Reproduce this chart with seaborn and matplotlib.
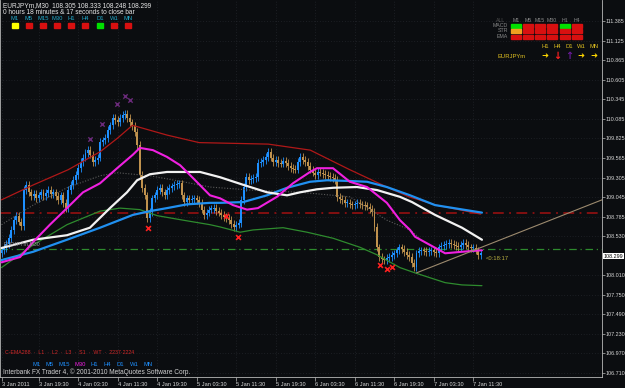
import matplotlib
matplotlib.use('Agg')
import matplotlib.pyplot as plt
import matplotlib.patches as mpatches
import numpy as np
import pandas as pd
import seaborn as sns

# ---------------- data ----------------
first_open = 108.30
closes = [
    108.34, 108.37, 108.42, 108.50, 108.61, 108.74, 108.80, 108.72, 108.66, 109.14,
    109.21, 109.11, 109.06, 109.09, 109.03, 109.07, 109.11, 109.06, 109.10, 109.14,
    109.09, 109.11, 109.06, 109.01, 109.07, 108.97, 108.90, 109.14, 109.21, 109.27,
    109.34, 109.43, 109.51, 109.57, 109.63, 109.67, 109.61, 109.51, 109.54, 109.57,
    109.78, 109.80, 109.83, 109.94, 110.00, 110.10, 110.07, 110.04, 110.10, 110.14,
    110.15, 110.10, 110.04, 109.99, 109.91, 109.74, 109.34, 109.17, 109.07, 108.77,
    108.85, 109.03, 109.07, 109.14, 109.17, 109.11, 109.07, 109.14, 109.17, 109.19,
    109.21, 109.22, 109.23, 109.07, 108.98, 109.03, 109.01, 109.02, 109.03, 109.01,
    108.97, 108.88, 108.81, 108.84, 108.88, 108.89, 108.90, 108.86, 108.84, 108.81,
    108.78, 108.77, 108.74, 108.69, 108.65, 108.68, 108.70, 109.01, 109.18, 109.31,
    109.27, 109.29, 109.30, 109.31, 109.50, 109.51, 109.54, 109.58, 109.65, 109.57,
    109.51, 109.54, 109.50, 109.49, 109.53, 109.50, 109.46, 109.43, 109.42, 109.41,
    109.51, 109.58, 109.54, 109.51, 109.46, 109.41, 109.37, 109.34, 109.38, 109.37,
    109.35, 109.34, 109.33, 109.31, 109.30, 109.27, 109.05, 109.02, 109.01, 108.97,
    108.97, 108.95, 108.94, 108.95, 108.97, 108.95, 108.94, 108.93, 108.92, 108.89,
    108.85, 108.65, 108.38, 108.25, 108.22, 108.21, 108.24, 108.25, 108.28, 108.30,
    108.34, 108.38, 108.36, 108.32, 108.28, 108.25, 108.17, 108.12, 108.30, 108.33,
    108.34, 108.33, 108.32, 108.33, 108.34, 108.32, 108.30, 108.38, 108.40, 108.41,
    108.42, 108.44, 108.42, 108.41, 108.40, 108.38, 108.41, 108.44, 108.41, 108.38,
    108.37, 108.37, 108.34, 108.28, 108.30,
]

# moving-average lines (bar index, price)
red_idx = [0, 13, 27, 40, 47, 53, 67, 80, 108, 125, 141, 156, 165, 176, 194]
red_val = [109.01, 109.21, 109.41, 109.65, 109.83, 110.00, 109.87, 109.77, 109.75,
           109.67, 109.41, 109.18, 109.05, 108.94, 108.82]

magenta_idx = [0, 7.5, 12.8, 19.6, 26.5, 33, 39.9, 46.8, 53.2, 56, 61.3, 67, 72.3, 77.5,
               84.4, 88.5, 93.7, 99.4, 103.8, 111.5, 118, 124.9, 127.7, 134.2, 141, 148,
               156, 161.3, 165.4, 167.4, 179.6, 186.4, 194.5]
magenta_val = [108.18, 108.25, 108.45, 108.68, 108.90, 109.11, 109.23, 109.43, 109.61,
               109.70, 109.67, 109.58, 109.47, 109.30, 109.07, 109.03, 108.94, 108.88,
               108.90, 109.05, 109.23, 109.38, 109.43, 109.43, 109.25, 109.18, 108.97,
               108.74, 108.61, 108.52, 108.30, 108.32, 108.34]

white_idx = [0, 12.8, 26.5, 35.8, 43.9, 50.8, 54.9, 60.1, 67, 73.5, 80.4, 88.5, 97.8,
             107.5, 115.6, 120.9, 127.7, 134.2, 143.9, 152, 161.3, 166.2, 175.5, 186.4, 194.5]
white_val = [108.37, 108.48, 108.54, 108.64, 108.90, 109.11, 109.27, 109.35, 109.38,
             109.38, 109.38, 109.31, 109.21, 109.11, 109.07, 109.11, 109.15, 109.17,
             109.18, 109.14, 109.05, 108.98, 108.81, 108.64, 108.48]

blue_idx = [0, 12.8, 26.5, 39.9, 53.2, 60.1, 67, 75.1, 84.4, 88.5, 97.8, 107.5, 115.6,
            124.9, 131.8, 141, 148, 156, 165.4, 175.5, 194.5]
blue_val = [108.21, 108.32, 108.48, 108.64, 108.81, 108.86, 108.90, 108.95, 108.97,
            108.97, 108.98, 109.07, 109.17, 109.25, 109.27, 109.26, 109.25, 109.18,
            109.07, 108.94, 108.84]

green_idx = [0, 12.8, 26.5, 39.9, 48, 56, 63, 73.5, 84.4, 88.5, 96.6, 101.8, 114, 123.7,
             134.2, 145.1, 152, 161.3, 167.4, 179.6, 186.4, 194.5]
green_val = [108.11, 108.41, 108.68, 108.86, 108.90, 108.88, 108.80, 108.74, 108.68,
             108.65, 108.58, 108.61, 108.64, 108.58, 108.50, 108.38, 108.28, 108.11,
             108.04, 107.91, 107.88, 107.87]

gray_idx = [0, 12.8, 26.5, 39.9, 46.8, 60.1, 73.5, 84.4, 100.6, 120.9, 141, 156, 165.4, 169.4]
gray_val = [108.68, 108.94, 109.17, 109.33, 109.37, 109.33, 109.25, 109.18, 109.14,
            109.11, 109.05, 108.74, 108.61, 108.50]

trend_idx = [168, 243.1]
trend_val = [108.04, 109.01]

red_level = 108.83
green_level = 108.36

frac_hi_idx = [35.8, 40.7, 46.8, 50, 52]
frac_hi_val = [109.82, 110.02, 110.28, 110.39, 110.34]
frac_lo_idx = [59.3, 90.9, 95.7, 153.2, 156.1, 158]
frac_lo_val = [108.64, 108.80, 108.52, 108.15, 108.09, 108.12]

price_ticks = [111.385, 111.125, 110.865, 110.605, 110.345, 110.085, 109.825, 109.565,
               109.305, 109.045, 108.785, 108.530, 108.010, 107.750, 107.490, 107.230,
               106.970, 106.710]
time_tick_bars = [0, 15, 31, 47, 63, 79, 95, 111, 127, 143, 159, 175, 191]
time_tick_labels = ["3 Jan 2011", "3 Jan 19:30", "4 Jan 03:30", "4 Jan 11:30",
                    "4 Jan 19:30", "5 Jan 03:30", "5 Jan 11:30", "5 Jan 19:30",
                    "6 Jan 03:30", "6 Jan 11:30", "6 Jan 19:30", "7 Jan 03:30",
                    "7 Jan 11:30"]
current_price = 108.299

tf_labels = ["M1", "M5", "M15", "M30", "H1", "H4", "D1", "W1", "MN"]
tf_status = ["yellow", "red", "red", "red", "red", "red", "green", "red", "red"]

panel_cols = ["M1", "M5", "M15", "M30", "H1", "H4"]
panel_rows = ["MACD", "STR", "EMA"]
panel_state = [["green", "red", "red", "red", "green", "red"],
               ["orange", "red", "red", "red", "red", "red"],
               ["red", "red", "red", "red", "red", "red"]]
trend_tf = ["H1", "H4", "D1", "W1", "MN"]
trend_dir = ["right", "down", "up", "right", "right"]

# ---------------- style ----------------
sns.set_theme(style='dark')
plt.rcParams['font.family'] = ['Liberation Sans', 'DejaVu Sans']
BG = '#0b0d10'
UP = '#1E90FF'
DOWN = '#C0924E'
AXC = '#b8b8b8'

fig = plt.figure(figsize=(6.25, 3.88), dpi=100, facecolor=BG)
ax = fig.add_axes([0, 11 / 388, 602 / 625, 377 / 388], facecolor=BG)

# candles
n = len(closes)
opens = [first_open] + closes[:-1]
df = pd.DataFrame({'i': np.arange(n), 'open': opens, 'close': closes})
df['up'] = df['close'] >= df['open']
df['lo'] = df[['open', 'close']].min(axis=1)
df['hi'] = df[['open', 'close']].max(axis=1)
wick = 0.05
for up, col in [(True, UP), (False, DOWN)]:
    d = df[df['up'] == up]
    ax.vlines(d['i'], d['lo'] - wick, d['hi'] + wick, color=col, lw=0.6, zorder=2)
    ax.bar(d['i'], (d['hi'] - d['lo']).clip(lower=0.015), bottom=d['lo'], width=0.8,
           color=col, lw=0, zorder=2)

# level lines
ax.axhline(red_level, color='#8B1010', ls=(0, (6, 3, 1, 3)), lw=1.3, zorder=1)
ax.axhline(green_level, color='#2E8B2E', ls=(0, (6, 3, 1, 3)), lw=0.9, zorder=1)

# MA lines
def line(xs, ys, color, lw, ls='-', z=3):
    sns.lineplot(x=xs, y=ys, ax=ax, color=color, lw=lw, linestyle=ls,
                 estimator=None, sort=False, zorder=z)

line(gray_idx, gray_val, '#5a5a5a', 0.8, ls=(0, (1, 1.5)))
line(green_idx, green_val, '#2E8B2E', 0.9)
line(red_idx, red_val, '#B01818', 0.9)
line(blue_idx, blue_val, '#2090F0', 1.6)
line(white_idx, white_val, '#F2F2F2', 1.6)
line(magenta_idx, magenta_val, '#F020E0', 1.5)
ax.plot(trend_idx, trend_val, color='#9C8A6E', lw=0.8, zorder=3)

ax.scatter(frac_hi_idx, frac_hi_val, marker='x', s=10, color='#6A2A7A', lw=1.0, zorder=4)
ax.scatter(frac_lo_idx, frac_lo_val, marker='x', s=12, color='#FF2020', lw=1.2, zorder=4)

ax.set_xlim(-0.61, 243.1)
ax.set_ylim(106.657, 111.664)

ax.yaxis.tick_right()
ax.set_yticks(price_ticks)
ax.set_yticklabels([f'{v:.3f}' for v in price_ticks])
ax.set_xticks(time_tick_bars)
ax.set_xticklabels(time_tick_labels, ha='left')
ax.tick_params(axis='y', colors=AXC, labelcolor='#d8d8d8', labelsize=3.9, length=2,
               width=0.5, pad=0.6, direction='out', right=True, left=False)
ax.tick_params(axis='x', colors=AXC, labelcolor='#d8d8d8', labelsize=4.1, length=3,
               width=0.5, pad=0.5, direction='out', bottom=True)
ax.set_xlabel('')
ax.set_ylabel('')
for s in ['left', 'right', 'bottom']:
    ax.spines[s].set_visible(True)
    ax.spines[s].set_color(AXC)
    ax.spines[s].set_linewidth(0.6)
ax.spines['top'].set_visible(False)
ax.grid(True, color='#2c3036', ls=(0, (1, 3)), lw=0.5)
ax.set_axisbelow(True)

# ---------------- overlay (pixel coordinates) ----------------
ov = fig.add_axes([0, 0, 1, 1], facecolor='none')
ov.set_xlim(0, 625)
ov.set_ylim(388, 0)
ov.axis('off')

FS = 4.7
SF = 4.2
ov.text(3, 5.5, 'EURJPYm,M30  108.305 108.333 108.248 108.299', color='#e8e8e8',
        fontsize=FS, va='center', ha='left')
ov.text(3, 12, '0 hours 18 minutes & 17 seconds to close bar', color='#e8e8e8',
        fontsize=FS, va='center', ha='left')

cmap = {'yellow': '#FFFF00', 'red': '#D81010', 'green': '#00E000', 'orange': '#F0A020'}
tf_x = [15, 29, 43, 57, 71, 85, 100, 114, 128]
for x, lab, st in zip(tf_x, tf_labels, tf_status):
    ov.text(x, 18, lab, color='#22A8C8', fontsize=SF, ha='center', va='center')
    ov.add_patch(mpatches.Rectangle((x - 3, 23), 6, 5, color=cmap[st]))

# top-right panel
col_x = [516, 528, 540, 552, 565, 577]
ov.text(501, 20, 'ALL', color='#555555', fontsize=3.8, ha='center', va='center')
for x, lab in zip(col_x, panel_cols):
    ov.text(x, 20, lab, color='#888888', fontsize=3.8, ha='center', va='center')
row_y = [25.5, 31, 36.5]
for y, lab, states in zip(row_y, panel_rows, panel_state):
    ov.text(508, y, lab, color='#888888', fontsize=3.8, ha='right', va='center')
    for x, st in zip(col_x, states):
        ov.add_patch(mpatches.Rectangle((x - 5, y - 2), 10, 4, color=cmap[st]))

arrow_x = [545, 557, 569, 581, 594]
for x, lab, dr in zip(arrow_x, trend_tf, trend_dir):
    ov.text(x, 46, lab, color='#E0C020', fontsize=SF, ha='center', va='center')
    if dr == 'right':
        ov.text(x, 56, '\u279C', color='#FFD700', fontsize=6, ha='center', va='center',
                family=['DejaVu Sans'], fontweight='bold')
    elif dr == 'down':
        ov.text(x, 56, '\u2193', color='#FF2020', fontsize=7, ha='center', va='center',
                family=['DejaVu Sans'], fontweight='bold')
    else:
        ov.text(x, 56, '\u2191', color='#6A1A9A', fontsize=7, ha='center', va='center',
                family=['DejaVu Sans'], fontweight='bold')
ov.text(512, 56, 'EURJPYm', color='#E0C020', fontsize=SF, ha='center', va='center')

# left label and countdown
ov.text(4, 244, 'EURJPYm,M30', color='#9a9a9a', fontsize=3.8, ha='left', va='center')
ov.text(486, 259, '<0:18:17', color='#B8B040', fontsize=SF, ha='left', va='center')

# current price box
ov.text(603.5, 256, f'{current_price:.3f}', color='black', fontsize=3.9, ha='left',
        va='center', bbox=dict(facecolor='white', edgecolor='none', pad=0.5))

# bottom texts
ov.text(5, 352, 'C-EMA288  \u00b7  L1  \u00b7  L2  \u00b7  L3  \u00b7  S1  \u00b7  WT  \u00b7  2237\u00b72224',
        color='#D02828', fontsize=3.8, ha='left', va='center')
bt_x = [37, 50, 64, 80, 94, 107, 120, 134, 148]
for x, lab in zip(bt_x, tf_labels):
    ov.text(x, 364, lab, color='#F020E0' if lab == 'M30' else '#1E90FF', fontsize=SF,
            ha='center', va='center')
ov.text(3, 372, 'Interbank FX Trader 4, \u00a9 2001-2010 MetaQuotes Software Corp.',
        color='#d0d0d0', fontsize=FS, ha='left', va='center')

fig.savefig('out.png', dpi=100, facecolor=BG)
